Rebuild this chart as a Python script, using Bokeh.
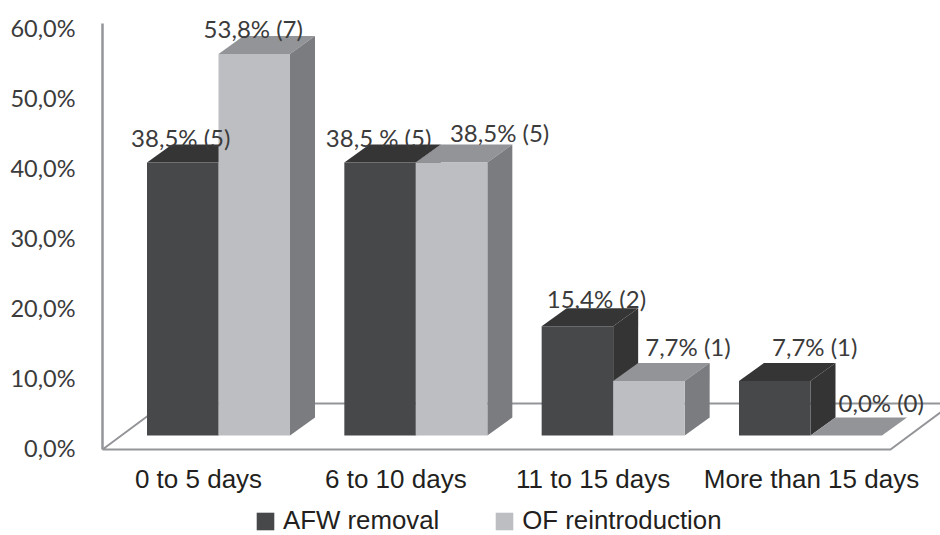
from bokeh.plotting import figure
from bokeh.models import Range1d, LinearAxis, FixedTicker, Legend, LegendItem
from bokeh.core.properties import value
from bokeh.embed import file_html
from bokeh.resources import INLINE

categories = ["0 to 5 days", "6 to 10 days", "11 to 15 days", "More than 15 days"]
afw_removal = [38.5, 38.5, 15.4, 7.7]
of_reintroduction = [53.8, 38.5, 7.7, 0.0]
afw_labels = ["38,5% (5)", "38,5 % (5)", "15,4% (2)", "7,7% (1)"]
of_labels = ["53,8% (7)", "38,5% (5)", "7,7% (1)", "0,0% (0)"]
y_ticks = [0, 10, 20, 30, 40, 50, 60]
y_tick_labels = ["0,0%", "10,0%", "20,0%", "30,0%", "40,0%", "50,0%", "60,0%"]

PX_X, PX_Y = 197.33, 7.09
CENTER = 218
BAR_W = 71.5 / PX_X
DX, DY = 25 / PX_X, 18 / PX_Y
W, H = 940, 535
LEFT = 94
FRONT_FLOOR = -14 / PX_Y
BACK_FLOOR = 32 / PX_Y
WALL_TOP = 412 / PX_Y
WALL_X = -116 / PX_X
FLOOR_R = 672 / PX_X
FLOOR_DX = 62 / PX_X
CAT_SHIFT = [-20 / PX_X, -20 / PX_X, -20 / PX_X, 1 / PX_X]
AFW_OFF = [(-2, 25), (-1.5, 25), (19, 28), (40, 34)]
OF_OFF = [(-1, 26), (48, 30), (39, 34), (35, 33)]

p = figure(width=W, height=H, output_backend="svg", toolbar_location=None,
           x_range=Range1d((LEFT - CENTER) / PX_X, (W - CENTER) / PX_X),
           y_range=Range1d((435 - H) / PX_Y, 435 / PX_Y),
           min_border_left=LEFT, min_border_right=0, min_border_top=0, min_border_bottom=0,
           y_axis_location=None, outline_line_color=None, background_fill_color="white")
p.xgrid.visible = False
p.ygrid.visible = False

wall = "#939598"
p.line([WALL_X, WALL_X + FLOOR_DX, FLOOR_R + FLOOR_DX, FLOOR_R, WALL_X],
       [FRONT_FLOOR, BACK_FLOOR, BACK_FLOOR, FRONT_FLOOR, FRONT_FLOOR], line_color=wall, line_width=2)
p.line([WALL_X, WALL_X], [FRONT_FLOOR, WALL_TOP], line_color=wall, line_width=2.5)


def bars(vals, offset, front, top, side):
    lefts = [i + offset for i in range(len(vals))]
    rights = [l + BAR_W for l in lefts]
    p.patches([[l, l + DX, r + DX, r] for l, r in zip(lefts, rights)],
              [[v, v + DY, v + DY, v] for v in vals], fill_color=top, line_color=None)
    p.patches([[r, r + DX, r + DX, r] for r in rights],
              [[0, DY, v + DY, v] for v, r in zip(vals, rights)], fill_color=side, line_color=None)
    return p.quad(left=lefts, right=rights, bottom=[0] * len(vals), top=vals,
                  fill_color=front, line_color=None)


r1 = bars(afw_removal, -BAR_W, "#47484a", "#353535", "#343434")
r2 = bars(of_reintroduction, 0, "#bdbec2", "#939497", "#7b7c80")

for vals, labs, off, base in [(afw_removal, afw_labels, AFW_OFF, -BAR_W / 2),
                              (of_reintroduction, of_labels, OF_OFF, BAR_W / 2)]:
    p.text([i + base for i in range(4)], vals, text=labs,
           x_offset=[o[0] for o in off], y_offset=[-o[1] for o in off],
           text_font=value("Lato"), text_font_size="24px", text_color="#3b3b3b",
           text_align="center", text_baseline="middle")

p.extra_y_ranges = {"ticks": Range1d((447 - H) / 7.0, 447 / 7.0)}
ax = LinearAxis(y_range_name="ticks", ticker=FixedTicker(ticks=y_ticks),
                major_label_overrides=dict(zip(y_ticks, y_tick_labels)),
                major_label_text_font="Lato", major_label_text_font_size="23.5px",
                major_label_text_color="#3b3b3b", major_label_standoff=13,
                axis_line_color=None, major_tick_line_color=None, minor_tick_line_color=None)
p.add_layout(ax, "left")

xt = [i + s for i, s in enumerate(CAT_SHIFT)]
xa = p.xaxis[0]
xa.ticker = FixedTicker(ticks=xt)
xa.major_label_overrides = dict(zip(xt, categories))
xa.major_label_text_font = "Liberation Sans"
xa.major_label_text_font_size = "26px"
xa.major_label_text_color = "#231f20"
xa.major_label_standoff = -78
xa.axis_line_color = None
xa.major_tick_line_color = None
xa.minor_tick_line_color = None

legend = Legend(items=[LegendItem(label="AFW removal", renderers=[r1]),
                       LegendItem(label="OF reintroduction", renderers=[r2])],
                orientation="horizontal", location=(160, 0), spacing=54, label_standoff=7,
                glyph_width=22, glyph_height=22, padding=0, margin=0,
                border_line_color=None, background_fill_color=None,
                label_text_font="Liberation Sans", label_text_font_size="25.8px",
                label_text_color="#231f20")
p.add_layout(legend, "center")

open("out.html", "w").write(file_html(p, INLINE))
